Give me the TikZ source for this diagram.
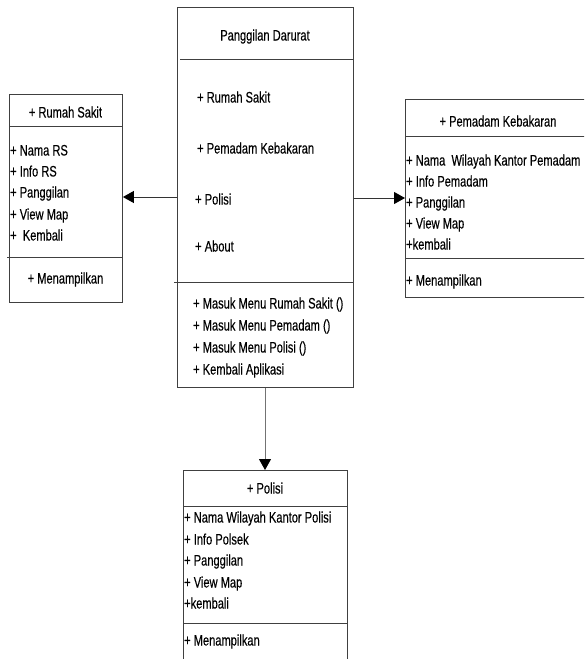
\documentclass[tikz,border=0pt]{standalone}
\usepackage{fontspec}
\setmainfont{Liberation Sans}[FakeStretch=0.73,FakeBold=0.3]
\usetikzlibrary{arrows.meta}

\begin{document}
\begin{tikzpicture}[x=1pt,y=-1pt,
  box/.style={draw=black!75, line width=0.9pt, rectangle, inner sep=0pt, anchor=north west},
  rule/.style={draw=black!75, line width=0.9pt},
  lbl/.style={inner sep=0pt, anchor=base west, font=\fontsize{15.2}{17}\selectfont},
  clbl/.style={inner sep=0pt, anchor=base, font=\fontsize{15.2}{17}\selectfont},
  link/.style={draw=black!80, line width=1pt, -{Triangle[length=11pt,width=12pt,black]}}]
  \useasboundingbox (0,0) rectangle (584,659);
  \clip (0,0) rectangle (584,659);

  % class boxes
  \node[box, minimum width=176pt, minimum height=380pt] (main) at (177,7) {};
  \node[box, minimum width=113pt, minimum height=208pt] (rs) at (9,94) {};
  \node[box, minimum width=187pt, minimum height=198pt] (pk) at (405,99) {};
  \node[box, minimum width=164pt, minimum height=230pt] (pol) at (183,470) {};

  % compartment rules
  \draw[rule] (180,59) -- (353,59);
  \draw[rule] (174,282) -- (353,282);
  \draw[rule] (9,126) -- (122,126);
  \draw[rule] (7,257) -- (122,257);
  \draw[rule] (405,136) -- (592,136);
  \draw[rule] (405,258) -- (592,258);
  \draw[rule] (183,506) -- (347,506);
  \draw[rule] (183,623) -- (347,623);

  % Panggilan Darurat
  \node[clbl] (mainT) at (265,40.5) {Panggilan Darurat};
  \node[lbl] (mA1) at (197,102.5) {+ Rumah Sakit};
  \node[lbl] (mA2) at (197,153.5) {+ Pemadam Kebakaran};
  \node[lbl] (mA3) at (195,204.5) {+ Polisi};
  \node[lbl] (mA4) at (195,251.5) {+ About};
  \node[lbl] (mM1) at (193,308.5) {+ Masuk Menu Rumah Sakit ()};
  \node[lbl] (mM2) at (193,330.5) {+ Masuk Menu Pemadam ()};
  \node[lbl] (mM3) at (193,352.5) {+ Masuk Menu Polisi ()};
  \node[lbl] (mM4) at (193,374.5) {+ Kembali Aplikasi};

  % Rumah Sakit
  \node[clbl] (rsT) at (65.5,117.5) {+ Rumah Sakit};
  \node[lbl] (rsA1) at (10,155.5) {+ Nama RS};
  \node[lbl] (rsA2) at (10,176.5) {+ Info RS};
  \node[lbl] (rsA3) at (10,197.5) {+ Panggilan};
  \node[lbl] (rsA4) at (10,219.5) {+ View Map};
  \node[lbl] (rsA5) at (10,240.5) {+\ \ Kembali};
  \node[clbl] (rsM1) at (65.5,283.5) {+ Menampilkan};

  % Pemadam Kebakaran
  \node[clbl] (pkT) at (498,126.5) {+ Pemadam Kebakaran};
  \node[lbl] (pkA1) at (406,165.5) {+ Nama\ \ Wilayah Kantor Pemadam};
  \node[lbl] (pkA2) at (406,186.5) {+ Info Pemadam};
  \node[lbl] (pkA3) at (406,207.5) {+ Panggilan};
  \node[lbl] (pkA4) at (406,228.5) {+ View Map};
  \node[lbl] (pkA5) at (406,249.5) {+kembali};
  \node[lbl] (pkM1) at (406,285.5) {+ Menampilkan};

  % Polisi
  \node[clbl] (polT) at (265,493.5) {+ Polisi};
  \node[lbl] (polA1) at (184,522.5) {+ Nama Wilayah Kantor Polisi};
  \node[lbl] (polA2) at (184,544.5) {+ Info Polsek};
  \node[lbl] (polA3) at (184,565.5) {+ Panggilan};
  \node[lbl] (polA4) at (184,587.5) {+ View Map};
  \node[lbl] (polA5) at (184,608.5) {+kembali};
  \node[lbl] (polM1) at (184,645.5) {+ Menampilkan};

  % associations
  \draw[link] (main.west |- 0,197) -- (rs.east |- 0,197);
  \draw[link] (main.east |- 0,198) -- (pk.west |- 0,198);
  \draw[link, draw=black!55] (main.south -| 265,0) -- (pol.north -| 265,0);
\end{tikzpicture}
\end{document}
